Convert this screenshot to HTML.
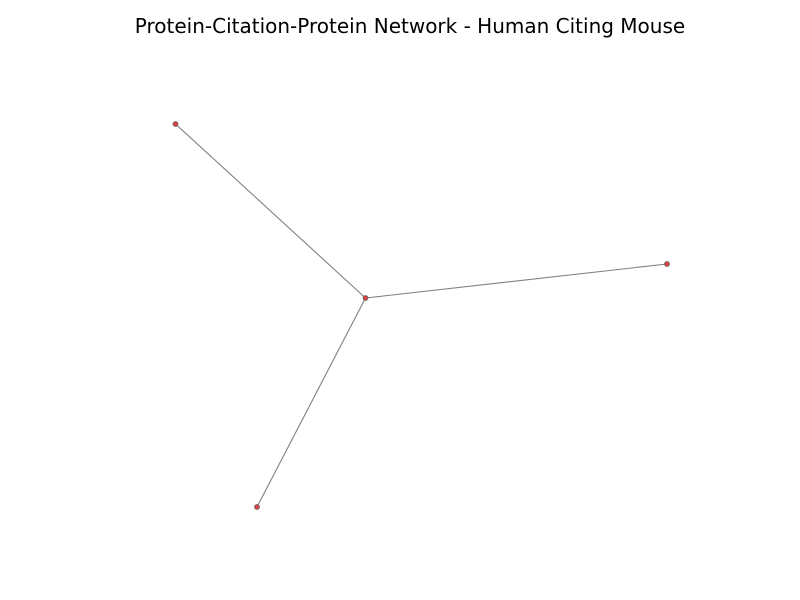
<!DOCTYPE html>
<html><head><meta charset="utf-8"><style>
body{margin:0;background:#fff;width:800px;height:600px;overflow:hidden}
svg{display:block}
</style></head><body>
<svg id="chart" width="800" height="600">
<rect width="800" height="600" fill="#fff"/>
<text x="410" y="33" text-anchor="middle" font-family="'DejaVu Sans', 'Liberation Sans', sans-serif" font-size="20" fill="#000">Protein-Citation-Protein Network - Human Citing Mouse</text>
<g id="edges"></g><g id="nodes"></g>
</svg>
<script>
const nodeIds = ["center", "top-left", "right", "bottom"];
const nodeX = [365.5, 175.5, 667, 257];
const nodeY = [298, 124, 264, 507];
const edgeSrc = [0, 0, 0];
const edgeDst = [1, 2, 3];
const NS = "http://www.w3.org/2000/svg";
const eg = document.getElementById('edges'), ng = document.getElementById('nodes');
for (let i = 0; i < edgeSrc.length; i++) {
  const l = document.createElementNS(NS, 'line');
  l.setAttribute('x1', nodeX[edgeSrc[i]]); l.setAttribute('y1', nodeY[edgeSrc[i]]);
  l.setAttribute('x2', nodeX[edgeDst[i]]); l.setAttribute('y2', nodeY[edgeDst[i]]);
  l.setAttribute('stroke', '#808080'); l.setAttribute('stroke-width', '1.1');
  
  
  eg.appendChild(l);
}
for (let i = 0; i < nodeIds.length; i++) {
  const c = document.createElementNS(NS, 'circle');
  c.setAttribute('cx', nodeX[i]); c.setAttribute('cy', nodeY[i]); c.setAttribute('r', '2.5');
  c.setAttribute('fill', '#d94040'); c.setAttribute('stroke', '#666'); c.setAttribute('stroke-width', '0.8');
  
  
  ng.appendChild(c);
}
</script>
</body></html>
